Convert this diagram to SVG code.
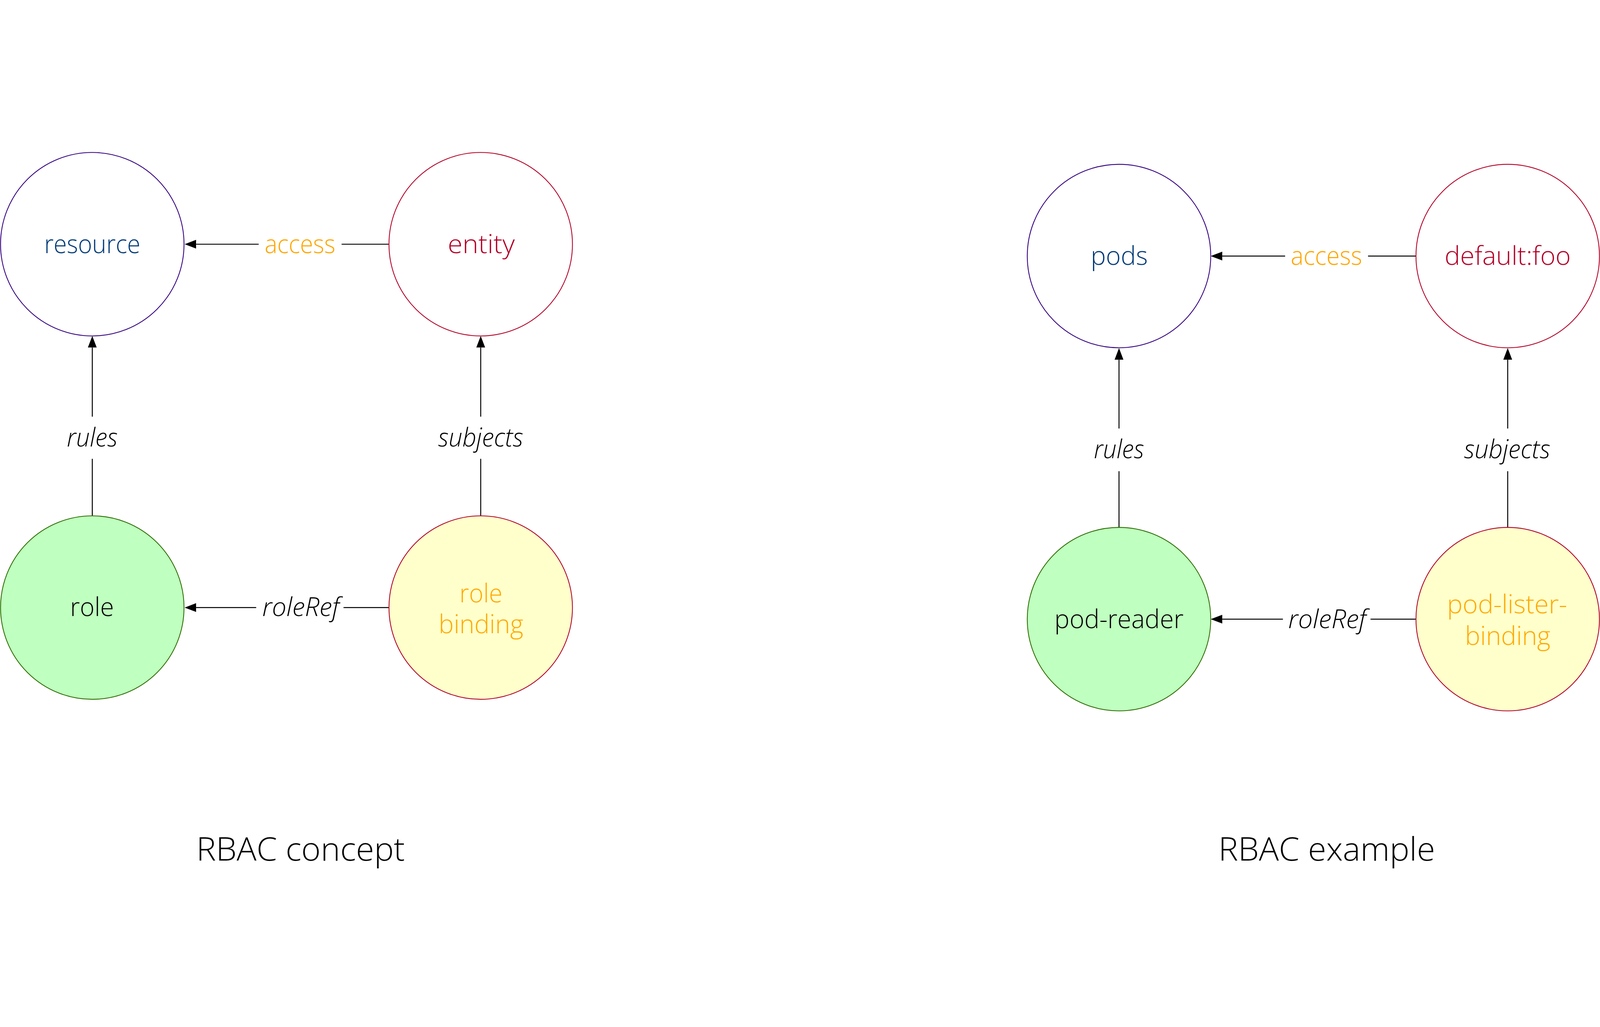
<svg xmlns="http://www.w3.org/2000/svg" width="5808" height="2629" viewBox="0 0 5808 2629" style="width:100vw;height:100vh;max-width:5808px;max-height:2629px">
<style>
  text { font-family: "Open Sans", "Noto Sans", "Liberation Sans", sans-serif; font-weight: 300; text-anchor: middle; }
  .lbl { font-size: 95px; }
  .edge { font-size: 95px; font-style: italic; fill: #000000; }
  .acc { font-size: 95px; fill: #FFA500; }
  .title { font-size: 118px; fill: #000000; }
  .res { fill: #FFFFFF; stroke: #330080; stroke-width: 3; }
  .ent { fill: #FFFFFF; stroke: #B20027; stroke-width: 3; }
  .rol { fill: #BFFFBF; stroke: #2D6E00; stroke-width: 3; }
  .bnd { fill: #FFFFCC; stroke: #B20027; stroke-width: 3; }
  .blue { fill: #003A78; }
  .red { fill: #B20027; }
  .black { fill: #000000; }
  .orange { fill: #FFAA00; }
  .conn path { fill: none; stroke: #000000; stroke-width: 3.5; }
</style>
<defs>
  <marker id="arrow" markerUnits="userSpaceOnUse" markerWidth="42" markerHeight="32" refX="0" refY="16" orient="auto" viewBox="0 0 42 32">
    <path d="M0,0 L42,16 L0,32 Z" fill="#000000"/>
  </marker>
</defs>
<rect x="0" y="0" width="5808" height="2629" fill="#FFFFFF"/>

<g id="connectors" class="conn">
  <path d="M1412,337 H1240"/>
  <path d="M939,337 H712" marker-end="url(#arrow)"/>
  <path d="M335,1323 V1116"/>
  <path d="M335,963 V712" marker-end="url(#arrow)"/>
  <path d="M1745,1323 V1116"/>
  <path d="M1745,963 V712" marker-end="url(#arrow)"/>
  <path d="M1412,1656 H1247"/>
  <path d="M930,1656 H712" marker-end="url(#arrow)"/>

  <path d="M5140,380 H4966"/>
  <path d="M4665,380 H4437" marker-end="url(#arrow)"/>
  <path d="M4062,1365 V1161"/>
  <path d="M4062,1006 V756" marker-end="url(#arrow)"/>
  <path d="M5473,1365 V1161"/>
  <path d="M5473,1006 V756" marker-end="url(#arrow)"/>
  <path d="M5140,1698 H4975"/>
  <path d="M4657,1698 H4437" marker-end="url(#arrow)"/>
</g>

<g id="edge-labels">
  <text class="acc" x="1089" y="370" textLength="257" lengthAdjust="spacingAndGlyphs">access</text>
  <text class="edge" x="335" y="1071" textLength="184" lengthAdjust="spacingAndGlyphs">rules</text>
  <text class="edge" x="1745" y="1071" textLength="309" lengthAdjust="spacingAndGlyphs">subjects</text>
  <text class="edge" x="1092" y="1687" textLength="280" lengthAdjust="spacingAndGlyphs">roleRef</text>

  <text class="acc" x="4815" y="412" textLength="259" lengthAdjust="spacingAndGlyphs">access</text>
  <text class="edge" x="4062" y="1114" textLength="182" lengthAdjust="spacingAndGlyphs">rules</text>
  <text class="edge" x="5471" y="1114" textLength="313" lengthAdjust="spacingAndGlyphs">subjects</text>
  <text class="edge" x="4818" y="1730" textLength="283" lengthAdjust="spacingAndGlyphs">roleRef</text>
</g>

<g id="node-resource">
  <circle class="res" cx="335" cy="337" r="333"/>
  <text class="lbl blue" x="335" y="370" textLength="349" lengthAdjust="spacingAndGlyphs">resource</text>
</g>
<g id="node-entity">
  <circle class="ent" cx="1745" cy="337" r="333"/>
  <text class="lbl red" x="1747" y="370" textLength="243" lengthAdjust="spacingAndGlyphs">entity</text>
</g>
<g id="node-role">
  <circle class="rol" cx="335" cy="1656" r="333"/>
  <text class="lbl black" x="334" y="1687" textLength="159" lengthAdjust="spacingAndGlyphs">role</text>
</g>
<g id="node-role-binding">
  <circle class="bnd" cx="1745" cy="1656" r="333"/>
  <text class="lbl orange"><tspan x="1746" y="1637" textLength="156" lengthAdjust="spacingAndGlyphs">role</tspan><tspan x="1746" y="1749" textLength="307" lengthAdjust="spacingAndGlyphs">binding</tspan></text>
</g>
<g id="title-concept">
  <text class="title" x="1091" y="2574" textLength="757" lengthAdjust="spacingAndGlyphs">RBAC concept</text>
</g>

<g id="node-pods">
  <circle class="res" cx="4062" cy="380" r="333"/>
  <text class="lbl blue" x="4063" y="412" textLength="207" lengthAdjust="spacingAndGlyphs">pods</text>
</g>
<g id="node-default-foo">
  <circle class="ent" cx="5473" cy="380" r="333"/>
  <text class="lbl red" x="5473" y="412" textLength="458" lengthAdjust="spacingAndGlyphs">default:foo</text>
</g>
<g id="node-pod-reader">
  <circle class="rol" cx="4062" cy="1698" r="333"/>
  <text class="lbl black" x="4062" y="1730" textLength="469" lengthAdjust="spacingAndGlyphs">pod-reader</text>
</g>
<g id="node-pod-lister-binding">
  <circle class="bnd" cx="5473" cy="1698" r="333"/>
  <text class="lbl orange"><tspan x="5471" y="1677" textLength="436" lengthAdjust="spacingAndGlyphs">pod-lister-</tspan><tspan x="5473" y="1791" textLength="310" lengthAdjust="spacingAndGlyphs">binding</tspan></text>
</g>
<g id="title-example">
  <text class="title" x="4816" y="2575" textLength="787" lengthAdjust="spacingAndGlyphs">RBAC example</text>
</g>
</svg>
